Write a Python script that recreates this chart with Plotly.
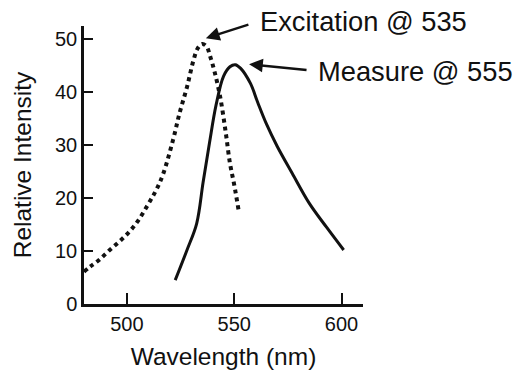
import plotly.graph_objects as go

# Excitation spectrum (dotted)
exc_wl = [480, 483, 487, 492, 497, 501, 505, 511, 514, 517, 521.5, 524.5, 528, 531, 533, 535, 537, 539, 541, 543.5, 546, 548, 550, 552]
exc_val = [6.1, 7.1, 8.3, 10.2, 12.0, 13.6, 15.6, 19.6, 21.8, 24.7, 31.0, 36.0, 41.0, 46.0, 48.3, 49.1, 48.7, 46.5, 43.6, 39.0, 32.5, 26.6, 22.5, 17.8]

# Emission / measure spectrum (solid)
mes_wl = [522.5, 528, 532.5, 535.5, 538.5, 541.5, 545, 548, 550.5, 553, 557.5, 561, 565, 570, 577, 585, 593, 601]
mes_val = [4.5, 10.2, 15.2, 23.0, 30.5, 37.5, 43.0, 44.8, 45.2, 44.5, 41.7, 38.0, 34.0, 29.8, 24.7, 19.0, 14.5, 10.2]

x_ticks = [500, 550, 600]
y_ticks = [0, 10, 20, 30, 40, 50]

INK = "#111111"
FONT = "Liberation Sans, Arial, sans-serif"

fig = go.Figure()
fig.add_trace(go.Scatter(x=exc_wl, y=exc_val, mode="lines", line=dict(color=INK, width=4, dash="dot", shape="spline"),
                         showlegend=False, hoverinfo="skip"))
fig.add_trace(go.Scatter(x=mes_wl, y=mes_val, mode="lines", line=dict(color=INK, width=3, shape="spline"),
                         showlegend=False, hoverinfo="skip"))

fig.update_layout(
    width=528, height=371,
    margin=dict(l=84, r=165, t=26, b=67, autoexpand=False),
    paper_bgcolor="white", plot_bgcolor="white",
    font=dict(family=FONT, color=INK),
)
fig.update_xaxes(range=[480, 610], tickvals=x_ticks, ticks="inside", ticklen=11, tickwidth=2, tickcolor=INK,
                 showline=True, linecolor=INK, linewidth=3, showgrid=False, zeroline=False, automargin=False,
                 ticklabelstandoff=0,
                 tickfont=dict(size=20), title=dict(text="Wavelength (nm)", font=dict(size=24.5), standoff=14))
fig.update_yaxes(range=[0, 52.5], tickvals=y_ticks, ticks="inside", ticklen=9, tickwidth=2, tickcolor=INK,
                 showline=True, linecolor=INK, linewidth=2.5, showgrid=False, zeroline=False, automargin=False,
                 ticklabelstandoff=0,
                 tickfont=dict(size=20), title=dict(text="Relative Intensity", font=dict(size=24.5), standoff=17))

# arrows
fig.add_annotation(x=536.8, y=50.2, xref="x", yref="y", text="", showarrow=True, ax=44, ay=-14,
                   arrowhead=2, arrowsize=1.1, arrowwidth=2.5, arrowcolor=INK)
fig.add_annotation(x=556.9, y=45.3, xref="x", yref="y", text="", showarrow=True, ax=59, ay=6,
                   arrowhead=2, arrowsize=1.1, arrowwidth=2.5, arrowcolor=INK)
# labels
fig.add_annotation(x=0.623, y=1.0144, xref="paper", yref="paper", text="Excitation @ 535", showarrow=False,
                   xanchor="left", yanchor="middle", font=dict(size=27.3, color=INK))
fig.add_annotation(x=0.8315, y=0.838, xref="paper", yref="paper", text="Measure @ 555", showarrow=False,
                   xanchor="left", yanchor="middle", font=dict(size=27.3, color=INK))

# remove the page's default 8px body margin so the figure sits at the window origin
fig.write_html("out.html", config={"displayModeBar": False},
               post_script="document.body.style.margin='0';")
